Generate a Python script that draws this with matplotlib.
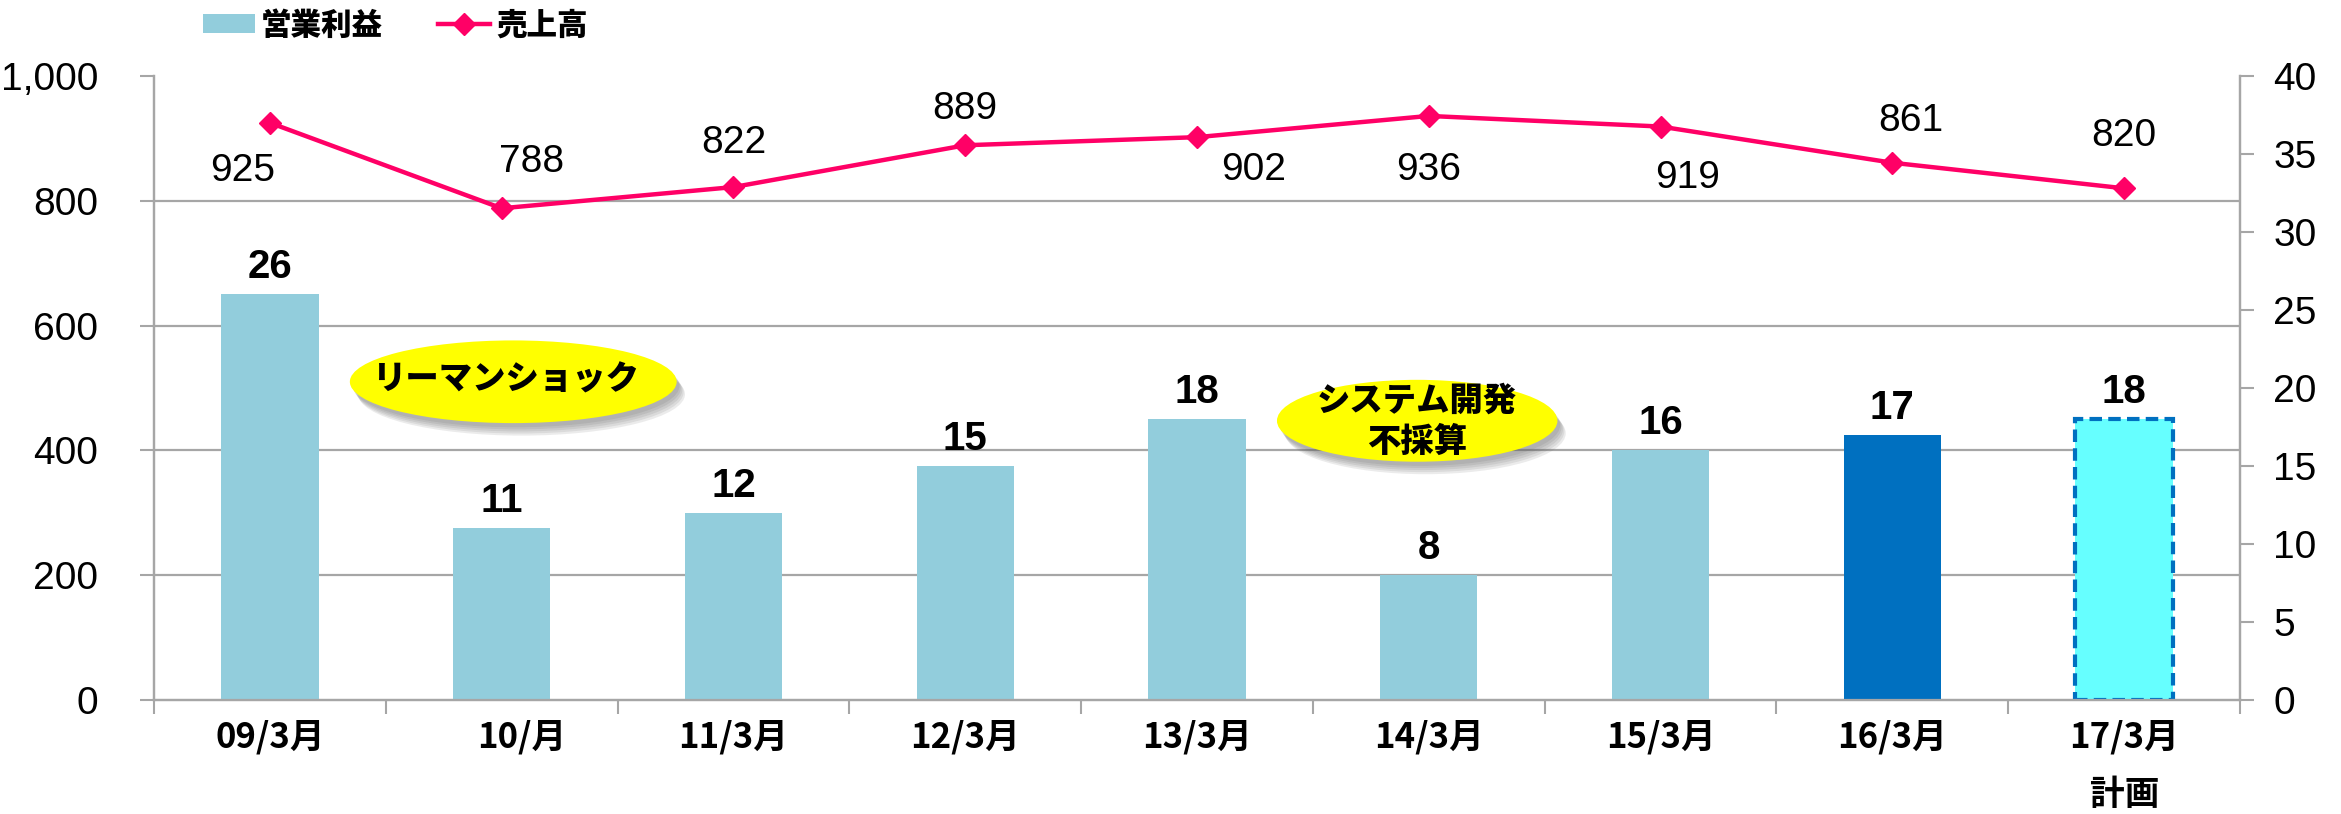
import numpy as np
import matplotlib
matplotlib.use("Agg")
from matplotlib import pyplot as plt
from matplotlib.patches import Ellipse, Patch
from matplotlib.lines import Line2D
from matplotlib.transforms import ScaledTranslation
import matplotlib.patheffects as pe

plt.rcParams['font.family'] = ['Liberation Sans', 'Noto Sans CJK JP', 'DejaVu Sans']
JP = ['Noto Sans CJK JP', 'DejaVu Sans']

# data
periods = ["09/3月", "10/月", "11/3月", "12/3月", "13/3月", "14/3月", "15/3月", "16/3月", "17/3月"]
profit = [26, 11, 12, 15, 18, 8, 16, 17, 18]          # 営業利益 (right axis)
sales = [925, 788, 822, 889, 902, 936, 919, 861, 820]  # 売上高 (left axis)
sales_ticks = [0, 200, 400, 600, 800, 1000]
profit_ticks = [0, 5, 10, 15, 20, 25, 30, 35, 40]

# label offsets for sales values (pixels)
sales_off = [(-27, -48), (30, 46), (0, 44), (0, 36), (57, -33), (0, -54), (27, -51), (18, 42), (0, 52)]

bar_colors = ["#92CDDC"] * 7 + ["#0070C0", "#66FFFF"]
pink = "#FF0066"
grid_c = "#A6A6A6"

fig = plt.figure(figsize=(23.41, 8.14), dpi=100)
fig.subplots_adjust(left=154/2341, right=2240/2341, bottom=1-700/814, top=1-76/814)
ax = fig.add_subplot(111)
ax2 = ax.twinx()

x = np.arange(len(periods))

# bars (right scale)
bars = ax.bar(x, profit, width=0.42, color=bar_colors, zorder=3)
bars[-1].set_edgecolor("#0070C0")
bars[-1].set_linestyle((0, (3, 1.5)))
bars[-1].set_linewidth(3)
for xi, v in zip(x, profit):
    ax.annotate(str(v), (xi, v), xytext=(0, 8), textcoords="offset pixels",
                ha="center", va="bottom", fontsize=29, fontweight="bold", zorder=6)

ax.set_ylim(0, 40)
ax.set_xlim(-0.5, len(periods) - 0.5)
ax.yaxis.tick_right()
ax.set_yticks(profit_ticks)
# gridlines follow the left scale
ax.set_yticks([v * 40 / 1000 for v in sales_ticks], minor=True)
ax.grid(which="minor", axis="y", color=grid_c, linewidth=1.6, zorder=0)
ax.tick_params(axis="y", which="minor", length=0)
ax.tick_params(axis="y", which="major", direction="out", length=10, width=1.5,
               color=grid_c, labelsize=28, pad=14)

ax.set_xticks(x)
ax.set_xticklabels(periods, fontsize=25, fontweight="bold", family=JP)
ax.set_xticks(np.arange(len(periods) + 1) - 0.5, minor=True)
ax.tick_params(axis="x", which="major", length=0, pad=14)
ax.tick_params(axis="x", which="minor", direction="out", length=10, width=1.5, color=grid_c)
lab = ax.get_xticklabels()[1]
lab.set_transform(lab.get_transform() + ScaledTranslation(0.2, 0, fig.dpi_scale_trans))

# line (left scale)
ax2.plot(x, sales, color=pink, linewidth=3.2, marker="D", markersize=11, zorder=5)
for xi, v, (dx, dy) in zip(x, sales, sales_off):
    ax2.annotate(str(v), (xi, v), xytext=(dx, dy), textcoords="offset pixels",
                 ha="center", va="center", fontsize=28)
ax2.set_ylim(0, 1000)
ax2.yaxis.tick_left()
ax2.set_yticks(sales_ticks)
ax2.set_yticklabels([f"{v:,}" for v in sales_ticks])
ax2.tick_params(axis="y", direction="out", length=10, width=1.5, color=grid_c,
                labelsize=28, pad=30)

for a in (ax, ax2):
    a.spines["top"].set_visible(False)
    for s in ("left", "right", "bottom"):
        a.spines[s].set_color(grid_c)
        a.spines[s].set_linewidth(1.6)

# callouts with soft shadow
shadow = [pe.SimplePatchShadow(offset=(o, -1.5 * o), shadow_rgbFace="#606060", alpha=0.12)
          for o in (2, 3, 4, 5, 6)] + [pe.Normal()]
e1 = Ellipse((1.05, 20.4), 1.41, 5.3, facecolor="#FFFF00", edgecolor="none", zorder=7)
e1.set_path_effects(shadow)
ax.add_patch(e1)
ax.text(1.02, 20.6, "リーマンショック", ha="center", va="center", fontsize=24,
        fontweight="heavy", family=JP, zorder=8)
e2 = Ellipse((4.95, 17.9), 1.21, 5.25, facecolor="#FFFF00", edgecolor="none", zorder=7)
e2.set_path_effects(shadow)
ax.add_patch(e2)
ax.text(4.95, 17.9, "システム開発\n不採算", ha="center", va="center", fontsize=24,
        fontweight="heavy", family=JP, linespacing=1.2, zorder=8)

fig.text(2125/2341, 1 - 795/814, "計画", ha="center", va="center", fontsize=25,
         fontweight="bold", family=JP)

handles = [Patch(facecolor="#92CDDC"),
           Line2D([], [], color=pink, linewidth=3.2, marker="D", markersize=11)]
fig.legend(handles, ["営業利益", "売上高"], loc="center left",
           bbox_to_anchor=(203/2341, 1 - 25/814), ncol=2, frameon=False,
           prop={"family": JP, "weight": "heavy", "size": 22},
           handlelength=1.7, handleheight=0.6, handletextpad=0.2,
           columnspacing=1.8, borderpad=0, borderaxespad=0)

fig.savefig("out.png", dpi=100)
